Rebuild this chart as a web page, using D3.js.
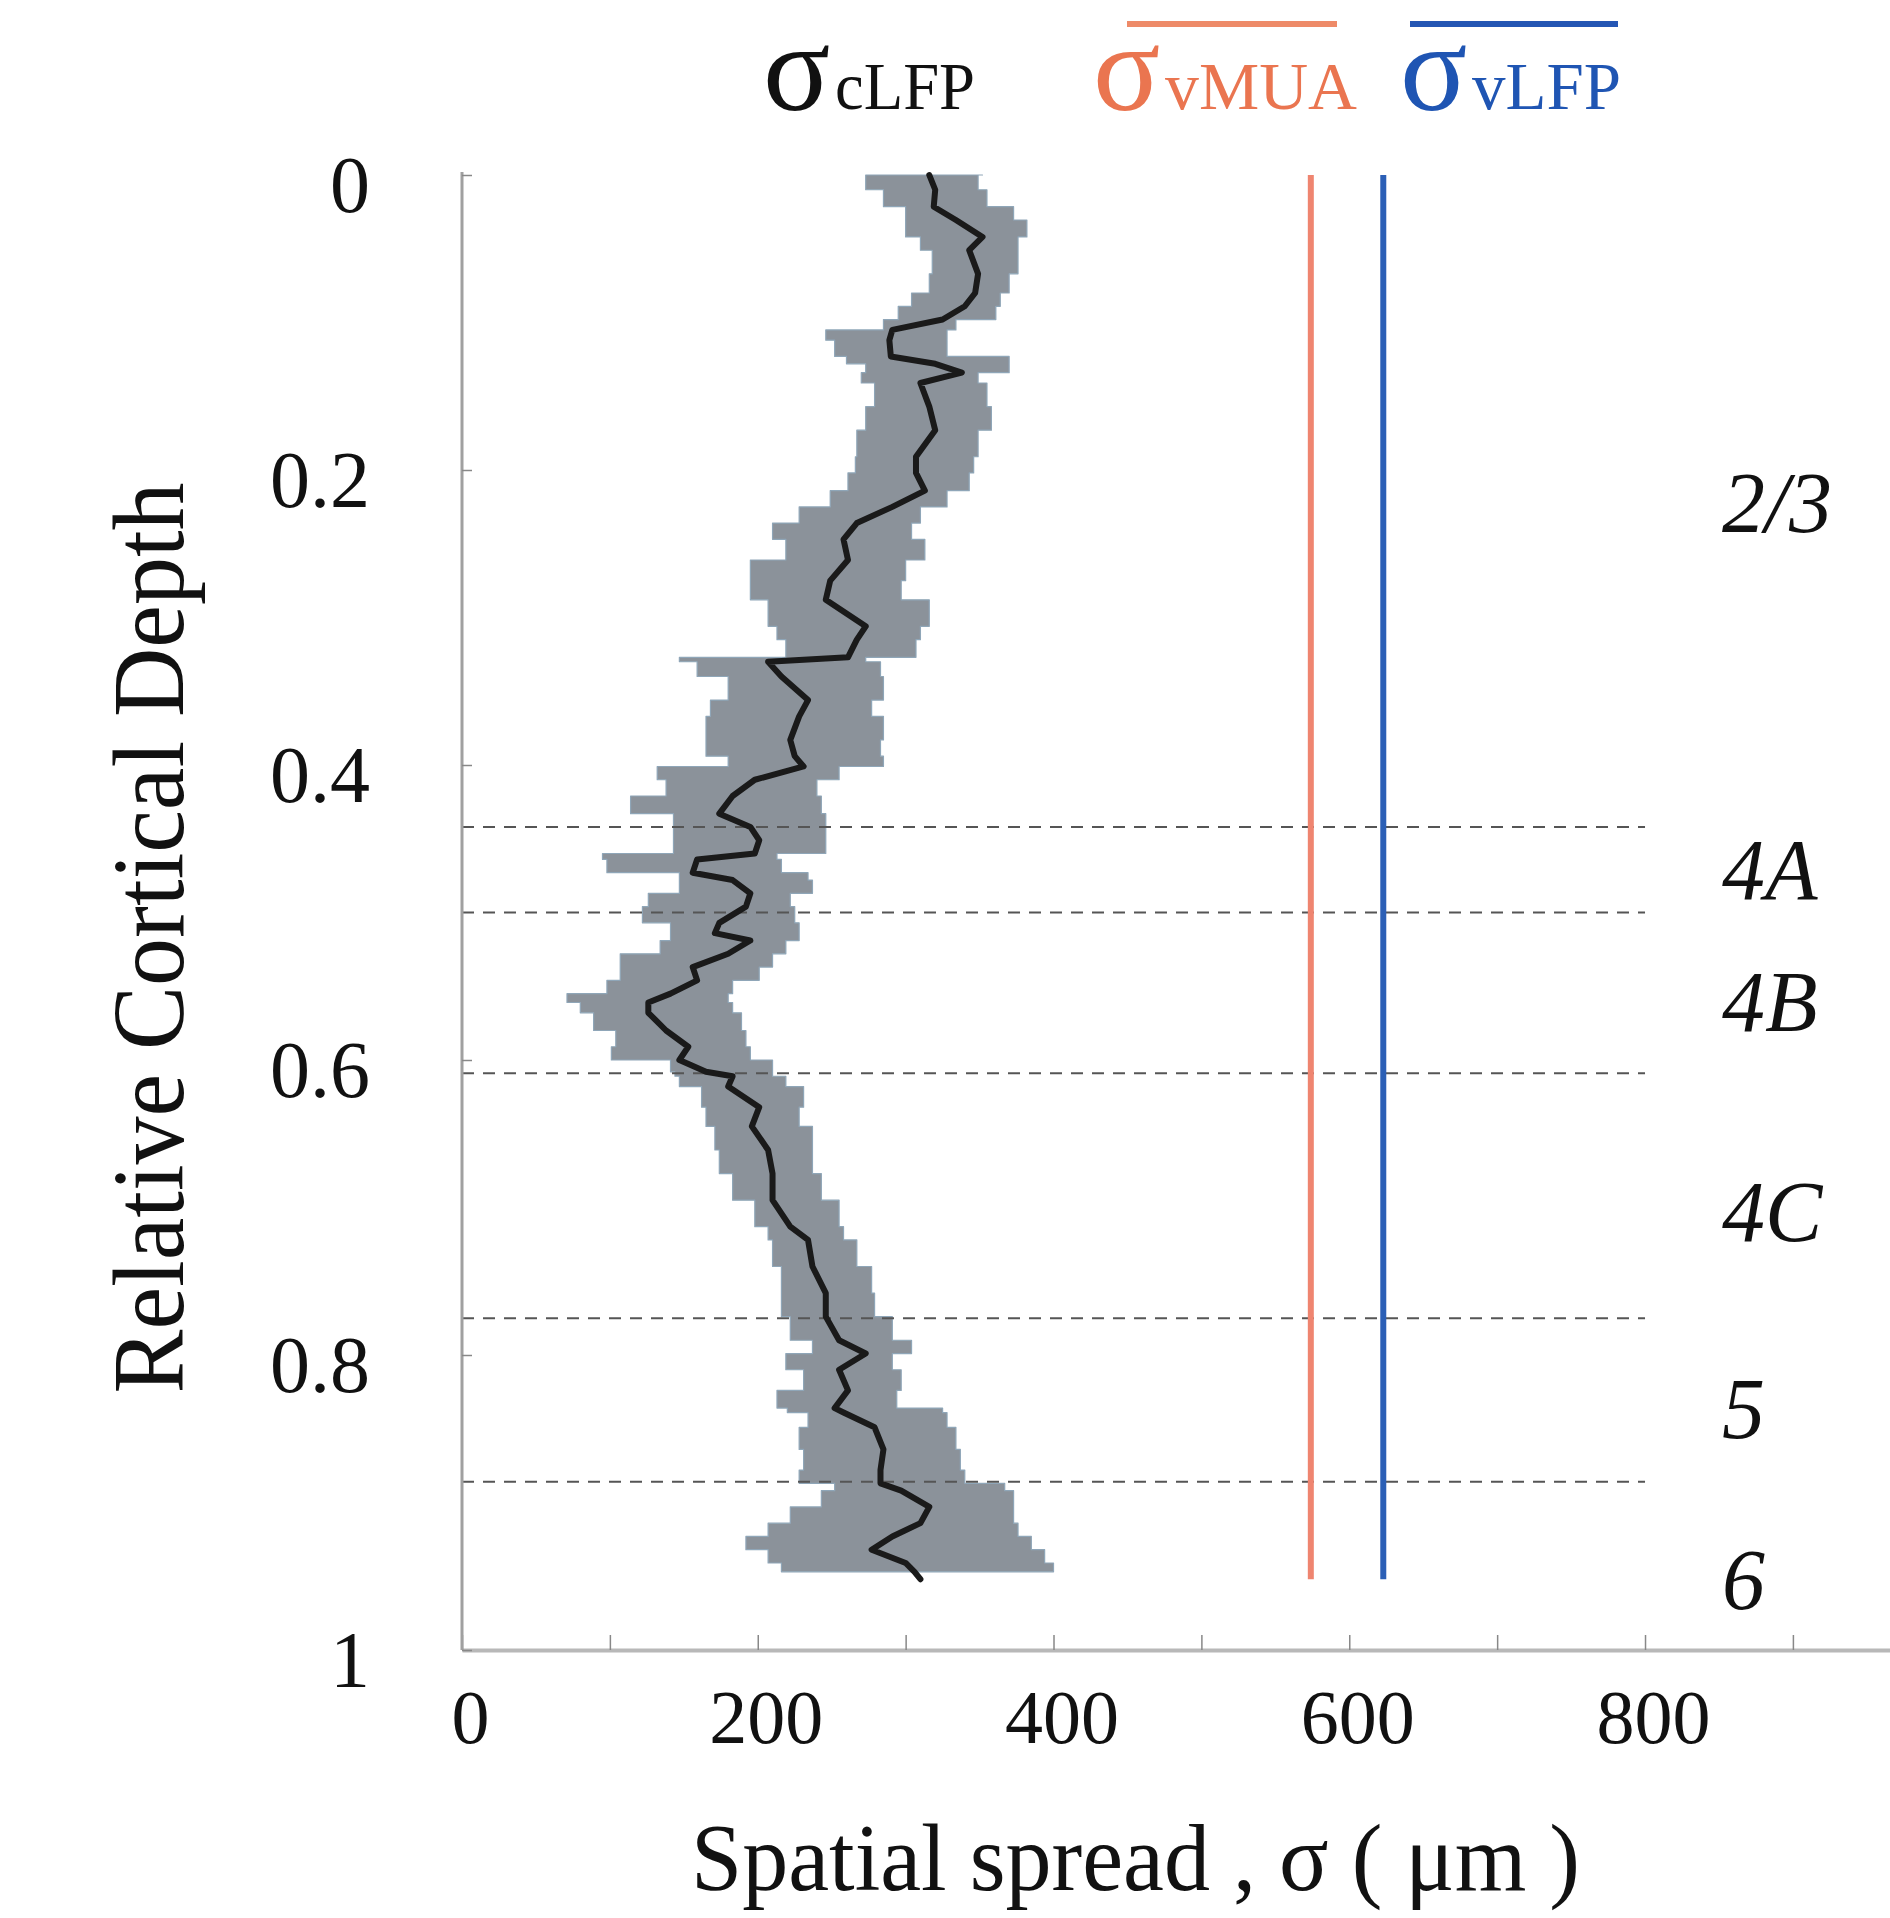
<!DOCTYPE html>
<html>
<head>
<meta charset="utf-8">
<script src="https://cdn.jsdelivr.net/npm/d3@7"></script>
<style>
  html, body { margin: 0; padding: 0; background: #fff; }
  svg { display: block; }
  text { font-family: "Liberation Serif", "Times New Roman", serif; }
</style>
</head>
<body>
<svg id="chart" width="1890" height="1918"></svg>
<script>
// ---- data ----
const depth = [0.000,0.010,0.0215,0.0305,0.042,0.051,0.067,0.080,0.089,0.098,0.105,0.112,0.123,0.128,0.134,0.141,0.157,0.173,0.191,0.202,0.214,0.225,0.236,0.247,0.261,0.275,0.288,0.306,0.315,0.327,0.330,0.340,0.356,0.367,0.383,0.394,0.401,0.410,0.421,0.433,0.442,0.451,0.460,0.464,0.473,0.478,0.487,0.496,0.507,0.514,0.519,0.528,0.537,0.546,0.555,0.561,0.568,0.580,0.591,0.600,0.608,0.611,0.618,0.632,0.645,0.661,0.677,0.695,0.713,0.722,0.740,0.758,0.774,0.790,0.799,0.810,0.824,0.836,0.839,0.849,0.864,0.878,0.887,0.892,0.903,0.914,0.923,0.932,0.941,0.947];
const sigmaMean = [316,320,319,334,352,343,349,347,340,325,291,289,290,320,338,310,316,320,307,307,313,291,267,258,261,249,246,273,267,261,207,216,234,228,222,225,231,198,183,174,195,201,198,159,156,183,195,192,174,171,195,180,156,159,141,126,126,138,153,147,165,183,180,201,196,207,210,210,222,234,237,246,246,255,273,255,261,252,258,279,285,283,283,297,316,310,291,277,300,306];
const sigmaLow  = [275,273,285,300,300,310,318,316,304,295,285,246,252,260,273,270,279,273,267,266,261,249,228,210,219,195,195,207,213,219,147,159,180,168,165,165,180,132,138,114,143,143,143,95,98,147,147,126,122,141,141,134,107,107,98,71,80,89,104,101,141,144,147,162,165,171,174,183,198,207,210,216,216,222,237,219,231,213,220,234,228,231,228,252,243,222,207,192,207,216];
const sigmaHigh = [352,349,355,373,382,376,376,370,364,361,334,328,328,370,370,349,355,358,349,346,343,328,310,304,313,300,297,316,310,307,273,283,285,277,285,283,285,255,240,243,246,246,246,213,216,234,237,222,225,228,228,219,210,201,183,180,183,189,192,195,210,210,219,231,228,237,237,243,255,258,267,277,279,291,304,291,297,294,325,328,334,337,340,367,373,373,376,385,394,400];
const meanEnd = {depth: 0.952, sigma: 310};

const sigmaVMUA = 574;           // constant spread, vMUA
const sigmaVLFP = 623;           // constant spread, vLFP
const constDepthRange = [0, 0.952];

const boundaryDepths = [0.442, 0.500, 0.609, 0.775, 0.886];
const layerNames  = ["2/3", "4A", "4B", "4C", "5", "6"];
const layerDepths = [0.242, 0.491, 0.580, 0.723, 0.856, 0.972];

const xTicks = [0,100,200,300,400,500,600,700,800,900];
const xLabelTicks = [0,200,400,600,800];
const yTicks = [0,0.2,0.4,0.6,0.8,1];

const xTitle = "Spatial spread , \u03c3 ( \u03bcm )";
const yTitle = "Relative Cortical Depth";

// ---- drawing ----
const svg = d3.select("#chart");
const x = d3.scaleLinear().domain([0, 966]).range([462, 1890.5]);
const y = d3.scaleLinear().domain([0, 1]).range([175, 1650]);

const rows = depth.map((d, i) => ({depth: d, m: sigmaMean[i], lo: sigmaLow[i], hi: sigmaHigh[i]}));

// shaded band
svg.append("path")
  .datum(rows)
  .attr("d", d3.area().y(d => y(d.depth)).x0(d => x(d.lo)).x1(d => x(d.hi)).curve(d3.curveStepAfter))
  .attr("fill", "#8b929a")
  .attr("stroke", "#8fa6b8")
  .attr("stroke-width", 1.2)
  .attr("stroke-linejoin", "round");

// dashed layer boundaries
svg.selectAll("line.bound").data(boundaryDepths).enter().append("line")
  .attr("class", "bound")
  .attr("x1", x(0)).attr("x2", x(800))
  .attr("y1", d => y(d)).attr("y2", d => y(d))
  .attr("stroke", "#555").attr("stroke-width", 2)
  .attr("stroke-dasharray", "12,9");

// mean line
const meanRows = rows.map(r => ({depth: r.depth, m: r.m})).concat([{depth: meanEnd.depth, m: meanEnd.sigma}]);
svg.append("path")
  .datum(meanRows)
  .attr("d", d3.line().y(d => y(d.depth)).x(d => x(d.m)).curve(d3.curveLinear))
  .attr("fill", "none")
  .attr("stroke", "#1a1a1a")
  .attr("stroke-width", 6)
  .attr("stroke-linejoin", "round")
  .attr("stroke-linecap", "round");

// constant vertical lines
[[sigmaVMUA, "#ef8570"], [sigmaVLFP, "#2b5fb6"]].forEach(([v, c]) => {
  svg.append("line")
    .attr("x1", x(v)).attr("x2", x(v))
    .attr("y1", y(constDepthRange[0])).attr("y2", y(constDepthRange[1]))
    .attr("stroke", c).attr("stroke-width", 6);
});

// x axis
const gx = svg.append("g").attr("transform", `translate(0,${y(1)})`)
  .call(d3.axisBottom(x).tickValues(xTicks).tickSizeInner(-15).tickSizeOuter(0).tickPadding(39)
    .tickFormat(d => xLabelTicks.includes(d) ? d : ""));
gx.select(".domain").attr("stroke", "#b8b8b8").attr("stroke-width", 4);
gx.selectAll(".tick line").attr("stroke", "#888").attr("stroke-width", 1.5);
gx.selectAll(".tick text").attr("font-size", 76).attr("fill", "#111").attr("dx", 8)
  .attr("font-family", "Liberation Serif, Times New Roman, serif");

// y axis
const gy = svg.append("g").attr("transform", `translate(${x(0)},0)`)
  .call(d3.axisLeft(y).tickValues(yTicks).tickSizeInner(-10).tickSizeOuter(0).tickPadding(92)
    .tickFormat(d3.format("")));
gy.select(".domain").attr("stroke", "#a0a0a0").attr("stroke-width", 3).attr("d", `M0,${y(0) - 3}V${y(1)}`);
gy.selectAll(".tick line").attr("stroke", "#888").attr("stroke-width", 1.5);
gy.selectAll(".tick text").attr("font-size", 80).attr("fill", "#111").attr("dy", "0.45em")
  .attr("font-family", "Liberation Serif, Times New Roman, serif");

// axis titles
svg.append("text")
  .attr("x", 691).attr("y", 1890)
  .attr("font-size", 96).attr("fill", "#111")
  .attr("textLength", 889).attr("lengthAdjust", "spacingAndGlyphs")
  .text(xTitle);

svg.append("text")
  .attr("transform", "translate(183,938) rotate(-90)")
  .attr("text-anchor", "middle")
  .attr("font-size", 102).attr("fill", "#111")
  .attr("textLength", 911).attr("lengthAdjust", "spacingAndGlyphs")
  .text(yTitle);

// layer labels
svg.selectAll("text.layer").data(layerNames).enter().append("text")
  .attr("class", "layer")
  .attr("x", 1722).attr("y", (d, i) => y(layerDepths[i]))
  .attr("font-size", 86).attr("font-style", "italic").attr("fill", "#111")
  .text(d => d);

// legend
const legend = [
  {sub: "cLFP", color: "#111", sx: 763, tx: 835, tl: 140, bar: null},
  {sub: "vMUA", color: "#ea7550", sx: 1093, tx: 1165, tl: 192, bar: [1127, 1337, "#ee8a68"]},
  {sub: "vLFP", color: "#1f55b3", sx: 1400, tx: 1472, tl: 149, bar: [1410, 1618, "#2456b4"]}
];
legend.forEach(l => {
  svg.append("text").attr("x", l.sx).attr("y", 110).attr("font-size", 125).attr("fill", l.color).text("\u03c3");
  svg.append("text").attr("x", l.tx).attr("y", 109).attr("font-size", 68).attr("fill", l.color)
    .attr("textLength", l.tl).attr("lengthAdjust", "spacingAndGlyphs").text(l.sub);
  if (l.bar) {
    svg.append("line").attr("x1", l.bar[0]).attr("x2", l.bar[1]).attr("y1", 24).attr("y2", 24)
      .attr("stroke", l.bar[2]).attr("stroke-width", 6);
  }
});
</script>
</body>
</html>
